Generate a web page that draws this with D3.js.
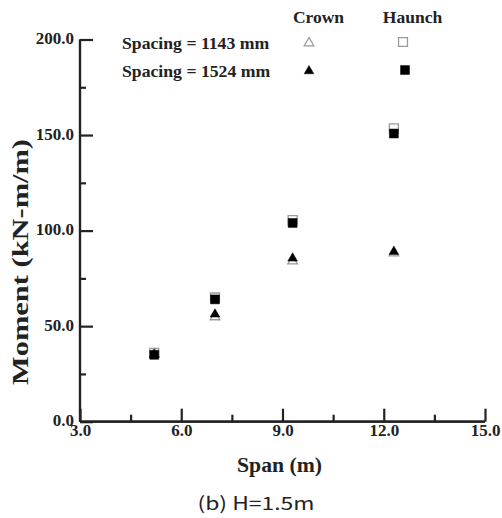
<!DOCTYPE html>
<html><head><meta charset="utf-8">
<script src="https://cdn.jsdelivr.net/npm/d3@7"></script>
<style>body{margin:0;background:#fff}svg{display:block}</style>
</head><body>
<svg id="c" width="502" height="518"></svg>
<script>
const spans = [5.2, 7.0, 9.3, 12.3];
const crown1143 = [35.5, 54.8, 84.0, 88.2];
const crown1524 = [35.0, 56.2, 85.5, 89.0];
const haunch1143 = [36.0, 65.0, 105.5, 153.5];
const haunch1524 = [35.0, 64.0, 104.0, 150.8];
const xTicks = [3, 6, 9, 12, 15];
const xMinor = [4.5, 7.5, 10.5, 13.5];
const yTicks = [0, 50, 100, 150, 200];
const yMinor = [25, 75, 125, 175];
const legendRows = ["Spacing = 1143 mm", "Spacing = 1524 mm"];
const legendCols = ["Crown", "Haunch"];

const svg = d3.select("#c");
const x = d3.scaleLinear().domain([3, 15]).range([80, 485]);
const y = d3.scaleLinear().domain([0, 200]).range([421.7, 39.5]);
const serif = "'Liberation Serif','Times New Roman',serif";
const ink = "#222";

// axes
const gx = svg.append("g").attr("transform", `translate(0,${y(0)})`);
gx.call(d3.axisBottom(x).tickValues(xTicks).tickSize(-13).tickPadding(2.5).tickFormat(d3.format(".1f")));
gx.append("g").call(d3.axisBottom(x).tickValues(xMinor).tickSize(-7).tickFormat(""));
const gy = svg.append("g").attr("transform", `translate(${x(3)},0)`);
gy.call(d3.axisLeft(y).tickValues(yTicks).tickSize(-13).tickPadding(6).tickFormat(d3.format(".1f")));
gy.append("g").call(d3.axisLeft(y).tickValues(yMinor).tickSize(-6).tickFormat(""));
svg.selectAll(".domain").attr("stroke", ink).attr("stroke-width", 2.2);
gx.selectAll(".domain").attr("d", `M${x(3)},0H${x(15)}`);
gy.selectAll(".domain").attr("d", `M0,${y(0)}V${y(200)}`);
svg.selectAll(".tick line").attr("stroke", ink).attr("stroke-width", 2.2);
svg.selectAll(".tick text").attr("font-family", serif).attr("font-weight", "bold")
  .attr("font-size", 17).attr("fill", ink);
gy.selectAll(".tick text").attr("dy", "0.25em");

// titles
svg.append("text").attr("x", 279.5).attr("y", 472).attr("text-anchor", "middle")
  .attr("font-family", serif).attr("font-weight", "bold").attr("font-size", 21.7).attr("fill", ink)
  .text("Span (m)");
svg.append("text").attr("transform", "translate(28,262) rotate(-90)").attr("text-anchor", "middle")
  .attr("font-family", serif).attr("font-weight", "bold").attr("font-size", 24).attr("fill", ink)
  .attr("textLength", 246).attr("lengthAdjust", "spacingAndGlyphs")
  .text("Moment (kN-m/m)");
svg.append("text").attr("x", 256).attr("y", 510).attr("text-anchor", "middle")
  .attr("font-family", "'Noto Sans CJK KR','Noto Sans',sans-serif").attr("font-size", 18).attr("fill", "#222")
  .attr("textLength", 117).attr("lengthAdjust", "spacingAndGlyphs")
  .text("(b)  H=1.5m");

const tri = d3.symbol().type(d3.symbolTriangle).size(40);
const sq = d3.symbol().type(d3.symbolSquare).size(80);
const hollow = "#9a9a9a";

function drawSeries(vals, gen, filled) {
  svg.append("g").selectAll("path").data(vals).join("path")
    .attr("transform", (d, i) => `translate(${x(spans[i])},${y(d)})`)
    .attr("d", gen)
    .attr("fill", filled ? "#000" : "#fff")
    .attr("stroke", filled ? "#000" : hollow)
    .attr("stroke-width", filled ? 0.5 : 1.3);
}
drawSeries(haunch1143, sq, false);
drawSeries(crown1143, tri, false);
drawSeries(haunch1524, sq, true);
drawSeries(crown1524, tri, true);

// legend
const lg = svg.append("g").attr("font-family", serif).attr("font-weight", "bold").attr("fill", ink);
lg.selectAll("text.col").data(legendCols).join("text").attr("class", "col")
  .attr("x", (d, i) => [318.5, 412.5][i]).attr("y", 22.5).attr("text-anchor", "middle")
  .attr("font-size", 17.5).text(d => d);
lg.selectAll("text.row").data(legendRows).join("text").attr("class", "row")
  .attr("x", 122).attr("y", (d, i) => [49.3, 77][i])
  .attr("font-size", 17.7).text(d => d);
const legMarks = [
  {gen: tri, filled: false, px: 309, py: 43},
  {gen: sq, filled: false, px: 403, py: 42},
  {gen: tri, filled: true, px: 309, py: 71},
  {gen: sq, filled: true, px: 405, py: 70}
];
svg.append("g").selectAll("path").data(legMarks).join("path")
  .attr("transform", d => `translate(${d.px},${d.py})`)
  .attr("d", d => d.gen())
  .attr("fill", d => d.filled ? "#000" : "#fff")
  .attr("stroke", d => d.filled ? "#000" : hollow)
  .attr("stroke-width", d => d.filled ? 0.5 : 1.3);
</script>
</body></html>
